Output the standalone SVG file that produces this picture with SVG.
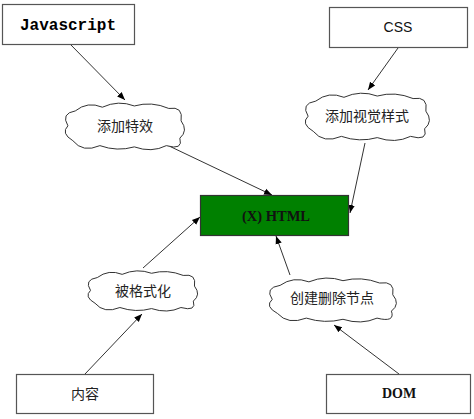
<svg xmlns="http://www.w3.org/2000/svg" xmlns:xlink="http://www.w3.org/1999/xlink" width="474" height="419" viewBox="0 0 474 419">
<style>
.box{fill:#fff;stroke:#555;stroke-width:1.2}
.html{fill:#008000;stroke:#333;stroke-width:1.2}
.cloud{fill:#fff;stroke:#333;stroke-width:1;vector-effect:non-scaling-stroke}
.mono{font-family:"Liberation Mono","DejaVu Sans Mono",monospace;font-weight:bold;text-anchor:middle;fill:#000}
.serif{font-family:"Liberation Serif","DejaVu Serif",serif;font-weight:bold;text-anchor:middle;fill:#111}
.sans{font-family:"Liberation Sans","Noto Sans CJK SC",sans-serif;text-anchor:middle;fill:#111}
.cjk{font-family:"Noto Sans CJK SC",sans-serif;font-size:14px;text-anchor:middle;fill:#222}
.conn{stroke:#333;stroke-width:1;fill:none;marker-end:url(#arr)}
</style>
<defs>
<marker id="arr" viewBox="0 0 10 10" refX="10" refY="5" markerWidth="8" markerHeight="8" markerUnits="userSpaceOnUse" orient="auto">
<path d="M0,1 L10,5 L0,9 Z" fill="#000"/>
</marker>
<path id="cl" class="cloud" d="M10,8 Q20,0 32,5 Q45,-1 58,4 Q72,0 86,6 Q98,4 96,16 Q102,24 95,30 Q98,40 84,36 Q72,42 58,37 Q44,41 30,36 Q16,42 8,32 Q-2,26 4,20 Q-2,10 10,8 Z"/>
</defs>
<rect width="474" height="419" fill="#fff"/>
<g id="connectors">
<line class="conn" x1="70" y1="44" x2="125" y2="100"/>
<line class="conn" x1="398" y1="48" x2="368" y2="90"/>
<line class="conn" x1="167" y1="145" x2="272" y2="195"/>
<line class="conn" x1="365" y1="143" x2="350" y2="213"/>
<line class="conn" x1="85" y1="374" x2="142" y2="314"/>
<line class="conn" x1="143" y1="268" x2="200" y2="217"/>
<line class="conn" x1="399" y1="374" x2="334" y2="325"/>
<line class="conn" x1="290" y1="275" x2="276" y2="236"/>
</g>
<g id="javascript">
<rect class="box" x="2.5" y="4.5" width="132" height="40"/>
<text class="mono" x="68" y="30" font-size="16">Javascript</text>
</g>
<g id="css">
<rect class="box" x="329.5" y="7.5" width="138" height="40"/>
<text class="sans" x="398" y="32" font-size="14">CSS</text>
</g>
<g id="effects">
<use xlink:href="#cl" transform="translate(63,101) scale(1.23,1.24)"/>
<text class="cjk" x="125" y="131">添加特效</text>
</g>
<g id="styles">
<use xlink:href="#cl" transform="translate(303,91) scale(1.28,1.26)"/>
<text class="cjk" x="367" y="121">添加视觉样式</text>
</g>
<g id="html">
<rect class="html" x="200.5" y="195.5" width="148" height="40"/>
<text class="serif" x="276" y="221" font-size="14.5">(X) HTML</text>
</g>
<g id="format">
<use xlink:href="#cl" transform="translate(86,269) scale(1.13,1.07)"/>
<text class="cjk" x="143" y="296">被格式化</text>
</g>
<g id="nodes-op">
<use xlink:href="#cl" transform="translate(267,276) scale(1.31,1.17)"/>
<text class="cjk" x="332" y="303">创建删除节点</text>
</g>
<g id="content">
<rect class="box" x="16.5" y="374.5" width="137" height="39"/>
<text class="cjk" x="85" y="399">内容</text>
</g>
<g id="dom">
<rect class="box" x="326.5" y="374.5" width="144" height="39"/>
<text class="serif" x="399" y="398" font-size="14">DOM</text>
</g>
</svg>
